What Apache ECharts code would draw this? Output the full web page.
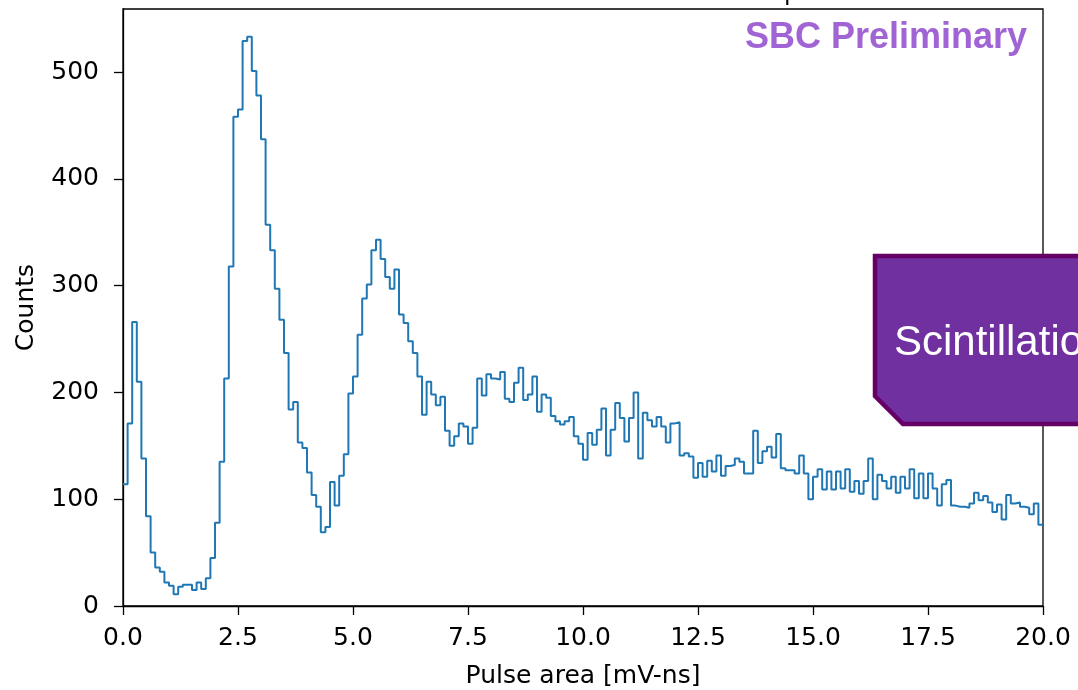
<!DOCTYPE html>
<html><head><meta charset="utf-8">
<script src="https://cdn.jsdelivr.net/npm/echarts@6/dist/echarts.min.js"></script>
<style>html,body{margin:0;padding:0;background:#fff;overflow:hidden}#c{width:1078px;height:690px}</style>
</head><body><div id="c"></div>
<script>
// Histogram of pulse areas: bin width 0.1 mV-ns starting at 0
const binStart = 0;
const binWidth = 0.1;
const counts = [
  114,171,266,210,138,84,50,36,32,22,
  19,11,18,20,20,15,22,16,26,45,
  78,135,213,318,458,465,529,533,501,478,
  437,357,333,297,268,237,184,191,153,148,
  125,104,93,69,74,116,94,122,142,199,
  215,254,288,301,333,343,325,308,297,315,
  273,265,248,237,215,179,210,198,188,196,
  164,150,159,171,168,152,167,213,197,217,
  213,212,219,194,191,209,223,193,198,215,
  182,198,195,178,173,170,173,177,159,152,
  137,162,151,165,185,141,165,190,176,154,
  176,200,138,181,174,168,177,168,153,171,
  172,141,143,140,120,134,121,136,126,141,
  122,131,132,138,135,124,124,164,134,145,
  149,139,161,129,127,127,124,141,124,100,
  121,128,109,126,109,126,110,128,107,117,
  105,117,138,100,123,117,110,121,106,121,
  110,128,101,124,101,124,110,94,114,118,
  94,93,93,92,96,106,99,103,97,88,
  95,81,104,96,97,93,92,86,96,76
];
const xTicks = [0, 2.5, 5, 7.5, 10, 12.5, 15, 17.5, 20];
const yTicks = [0, 100, 200, 300, 400, 500];
const xName = 'Pulse area [mV-ns]';
const yName = 'Counts';
const watermark = 'SBC Preliminary';
const boxText = 'Scintillation';

const xMax = binStart + binWidth * counts.length;
const stepData = counts.map((c, i) => [+(binStart + i * binWidth).toFixed(4), c]);
stepData.push([+xMax.toFixed(4), counts[counts.length - 1]]);

const chart = echarts.init(document.getElementById('c'), null, {renderer: 'canvas'});
const axisFont = {fontFamily: 'DejaVu Sans', fontSize: 25, color: '#000'};
chart.setOption({
  animation: false,
  backgroundColor: '#fff',
  grid: {left: 123, right: 35, top: 9, bottom: 84, containLabel: false, outerBoundsMode: 'none',
         show: true, borderColor: '#000', borderWidth: 1.3, backgroundColor: 'transparent'},
  xAxis: {
    type: 'value', min: 0, max: 20, interval: 2.5,
    name: xName, nameLocation: 'middle', nameGap: 58,
    nameTextStyle: axisFont,
    axisLine: {show: true, onZero: false, lineStyle: {color: '#000', width: 1.3}},
    axisTick: {show: true, length: 9, lineStyle: {color: '#000', width: 1.3}, customValues: xTicks},
    axisLabel: {margin: 20, ...axisFont, customValues: xTicks, formatter: v => Number(v).toFixed(1)},
    splitLine: {show: false}
  },
  yAxis: {
    type: 'value', min: 0, max: 559, interval: 100,
    name: yName, nameLocation: 'middle', nameGap: 84, nameRotate: 90,
    nameTextStyle: axisFont,
    axisLine: {show: true, lineStyle: {color: '#000', width: 1.3}},
    axisTick: {show: true, length: 9, lineStyle: {color: '#000', width: 1.3}, customValues: yTicks},
    axisLabel: {margin: 24, ...axisFont, customValues: yTicks, formatter: v => (v % 100 === 0 ? String(v) : '')},
    splitLine: {show: false}
  },
  series: [{
    type: 'line', step: 'end', data: stepData, showSymbol: false, symbol: 'none',
    lineStyle: {color: '#1f77b4', width: 2}, clip: true
  }],
  graphic: [
    {type: 'text', x: 1027, y: 38, z: 100,
     style: {text: watermark, fill: '#a064d4', font: 'bold 36px "Liberation Sans"', align: 'right', verticalAlign: 'middle'}},
    {type: 'polygon', z: 100,
     shape: {points: [[875, 256], [1090, 256], [1090, 424], [903, 424], [875, 396]]},
     style: {fill: '#7030a0', stroke: '#660066', lineWidth: 4.5}},
    {type: 'text', x: 894, y: 343, z: 101,
     style: {text: boxText, fill: '#ffffff', font: '42px "Liberation Sans"', align: 'left', verticalAlign: 'middle'}},
    {type: 'text', x: 784, y: 6, z: 100,
     style: {text: 'p', fill: '#000', font: '24px "DejaVu Sans"', align: 'left', verticalAlign: 'bottom'}}
  ]
});
</script>
</body></html>
